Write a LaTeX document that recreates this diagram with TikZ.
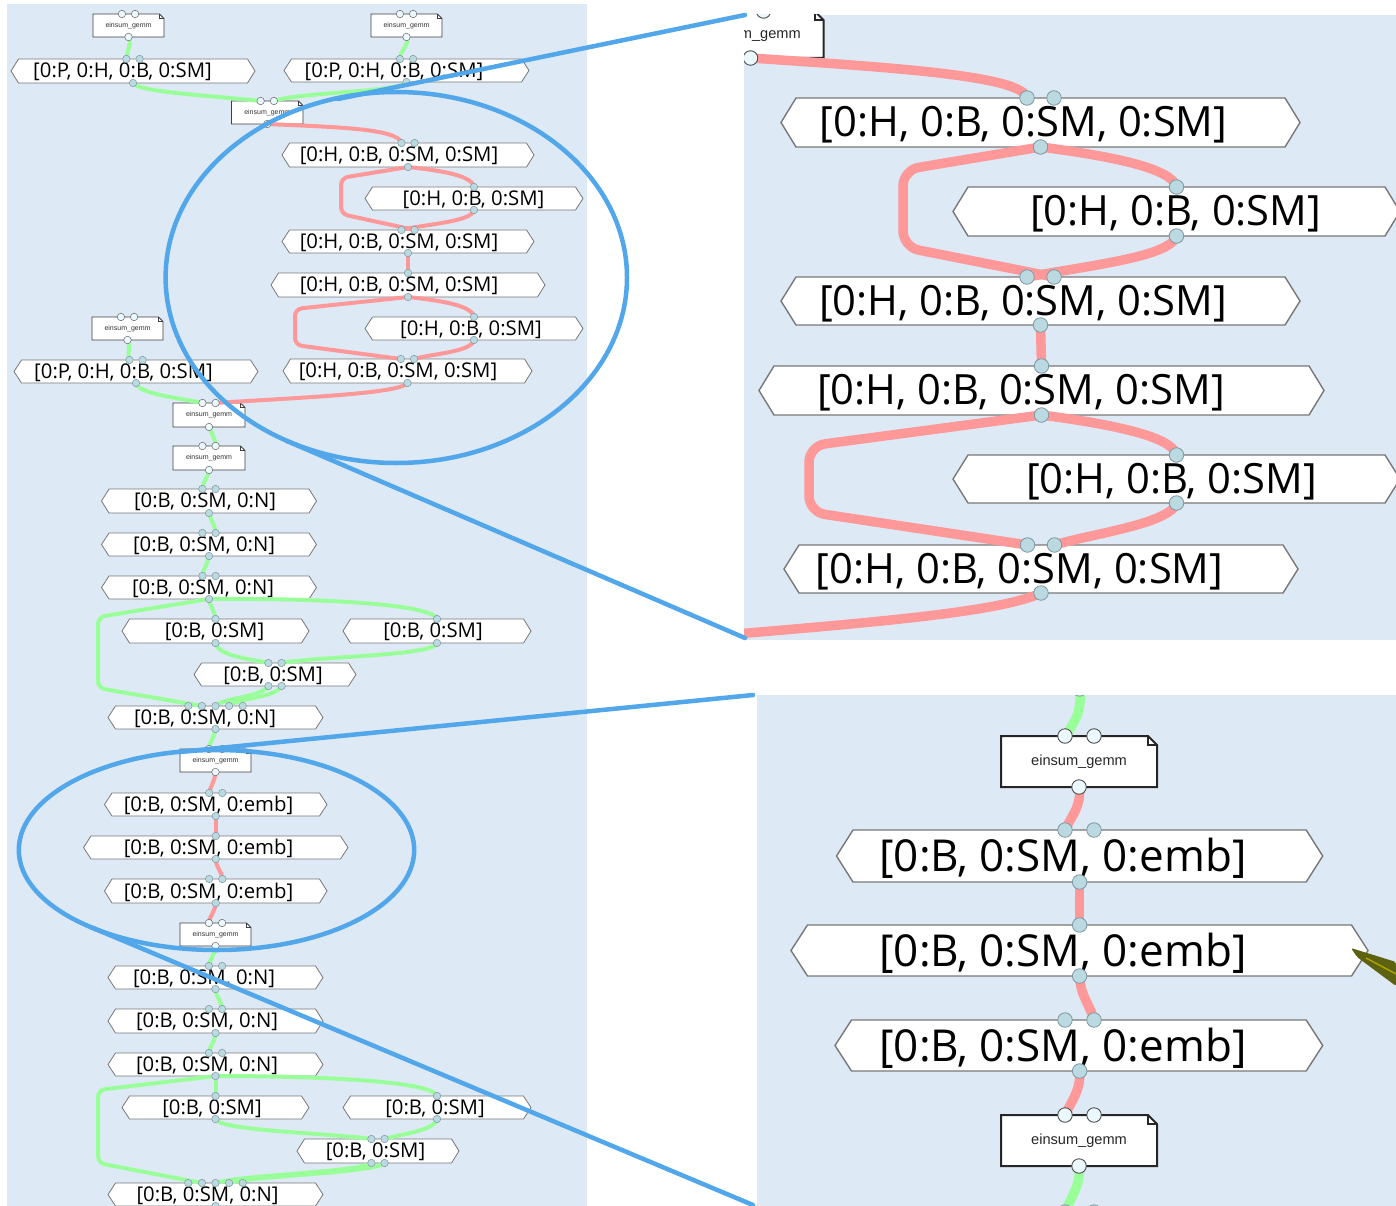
\documentclass[tikz,border=0pt]{standalone}
\usepackage{fontspec}
\setmainfont{Open Sans}
\newfontfamily\gemmfont{Liberation Sans}
\definecolor{panelbg}{RGB}{221,233,245}
\definecolor{edgered}{RGB}{255,153,153}
\definecolor{edgegreen}{RGB}{153,255,153}
\definecolor{zoomblue}{RGB}{82,166,234}
\definecolor{portfill}{RGB}{187,217,224}
\definecolor{portline}{RGB}{125,150,160}
\definecolor{hexline}{RGB}{120,120,120}
\definecolor{olivewedge}{RGB}{92,98,16}

\tikzset{
  panel/.style={fill=panelbg},
  hexs/.style={fill=white, draw=hexline, line width=0.8pt},
  hexl/.style={fill=white, draw=hexline, line width=1.4pt},
  boxs/.style={fill=white, draw=black!75, line width=0.8pt},
  boxl/.style={fill=white, draw=black!85, line width=2pt},
  lbls/.style={font=\fontsize{20.3}{24}\selectfont, inner sep=0pt},
  lblt/.style={font=\fontsize{41.7}{48}\selectfont, inner sep=0pt},
  lblb/.style={font=\fontsize{44}{50}\selectfont, inner sep=0pt},
  gems/.style={font=\gemmfont\fontsize{7}{8}\selectfont, inner sep=0pt, text=black!80},
  geml/.style={font=\gemmfont\fontsize{14.6}{17}\selectfont, inner sep=0pt, text=black!85},
  ps/.style={circle, fill=portfill, draw=portline, line width=0.5pt, minimum size=7.5pt, inner sep=0pt},
  pws/.style={circle, fill=white!92!cyan, draw=black!60, line width=0.5pt, minimum size=7.5pt, inner sep=0pt},
  pl/.style={circle, fill=portfill, draw=portline, line width=0.8pt, minimum size=14.5pt, inner sep=0pt},
  pwl/.style={circle, fill=white!92!cyan, draw=black!70, line width=0.9pt, minimum size=14.5pt, inner sep=0pt},
  gs/.style={draw=edgegreen, line width=4pt},
  rs/.style={draw=edgered, line width=4pt},
  gl/.style={draw=edgegreen, line width=9.5pt},
  rl/.style={draw=edgered, line width=9.5pt},
  loops/.style={rounded corners=7pt},
  loopl/.style={rounded corners=16pt},
  callout/.style={draw=zoomblue, line width=4.5pt, line cap=round},
}

% hexagonal tensor box: style, x1, x2, ytop, ybottom, tip
\newcommand\hexpath[6]{%
  \path[#1] (#2,{(#4+#5)/2}) -- ({#2+#6},#4) -- ({#3-#6},#4) -- (#3,{(#4+#5)/2})
    -- ({#3-#6},#5) -- ({#2+#6},#5) -- cycle;}
% operator box with folded corner: style, x1, x2, ytop, ybottom, fold
\newcommand\gemmbox[6]{%
  \path[#1] (#2,#4) -- ({#3-#6},#4) -- (#3,{#4+#6}) -- (#3,#5) -- (#2,#5) -- cycle;
  \path[#1, fill=none] ({#3-#6},#4) -- ({#3-#6},{#4+#6}) -- (#3,{#4+#6});}
% port marker on a named coordinate
\newcommand\pdot[2]{\node[#1] (#2-o) at (#2) {};}

\begin{document}
\begin{tikzpicture}[x=1pt, y=-1pt]
\useasboundingbox (0,0) rectangle (1396,1206);
\fill[white] (0,0) rectangle (1396,1206);

% ---------------- overview panel ----------------
\fill[panel] (7,4) rectangle (587,1206);

\hexpath{hexs}{11}{255}{59}{83}{7.5}     \node[lbls] (l1) at (122.5,72) {[0:P, 0:H, 0:B, 0:SM]};
\hexpath{hexs}{284}{529}{59}{82}{7.5}    \node[lbls] (l2) at (394,71.5) {[0:P, 0:H, 0:B, 0:SM]};
\hexpath{hexs}{282}{534}{143}{167}{7.5}  \node[lbls] (h1) at (399,156) {[0:H, 0:B, 0:SM, 0:SM]};
\hexpath{hexs}{365}{583}{187}{210}{7.5}  \node[lbls] (h2) at (473.5,199.5) {[0:H, 0:B, 0:SM]};
\hexpath{hexs}{282}{534}{230}{253}{7.5}  \node[lbls] (h3) at (399,242.5) {[0:H, 0:B, 0:SM, 0:SM]};
\hexpath{hexs}{271}{545}{273}{297}{7.5}  \node[lbls] (h4) at (399,286) {[0:H, 0:B, 0:SM, 0:SM]};
\hexpath{hexs}{365}{583}{317}{340}{7.5}  \node[lbls] (h5) at (471,329.5) {[0:H, 0:B, 0:SM]};
\hexpath{hexs}{283}{532}{359}{383}{7.5}  \node[lbls] (h6) at (398,372) {[0:H, 0:B, 0:SM, 0:SM]};
\hexpath{hexs}{14}{258}{360}{383}{7.5}   \node[lbls] (l3) at (123.5,372.5) {[0:P, 0:H, 0:B, 0:SM]};
\hexpath{hexs}{101.5}{316.5}{489}{513}{7.5} \node[lbls] (n1) at (205,502) {[0:B, 0:SM, 0:N]};
\hexpath{hexs}{101.5}{316.5}{533}{556}{7.5} \node[lbls] (n2) at (204,545.5) {[0:B, 0:SM, 0:N]};
\hexpath{hexs}{101.5}{316.5}{576}{599}{7.5} \node[lbls] (n3) at (203,588.5) {[0:B, 0:SM, 0:N]};
\hexpath{hexs}{122}{309}{619}{643}{7.5}  \node[lbls] (s1) at (214.5,632) {[0:B, 0:SM]};
\hexpath{hexs}{343}{531}{619}{643}{7.5}  \node[lbls] (s2) at (433,632) {[0:B, 0:SM]};
\hexpath{hexs}{194}{356}{663}{686}{7.5}  \node[lbls] (s3) at (273,675.5) {[0:B, 0:SM]};
\hexpath{hexs}{108}{323}{706}{729}{7.5}  \node[lbls] (n4) at (205,718.5) {[0:B, 0:SM, 0:N]};
\hexpath{hexs}{104.5}{327}{793}{816}{7.5} \node[lbls] (e1) at (208.5,805.5) {[0:B, 0:SM, 0:emb]};
\hexpath{hexs}{83.5}{348}{836}{859}{7.5} \node[lbls] (e2) at (208.5,848.5) {[0:B, 0:SM, 0:emb]};
\hexpath{hexs}{104.5}{327}{879}{903}{7.5} \node[lbls] (e3) at (208.5,892) {[0:B, 0:SM, 0:emb]};
\hexpath{hexs}{108}{323}{966}{989}{7.5}  \node[lbls] (n5) at (204,978.5) {[0:B, 0:SM, 0:N]};
\hexpath{hexs}{108}{323}{1009}{1033}{7.5} \node[lbls] (n6) at (207,1022) {[0:B, 0:SM, 0:N]};
\hexpath{hexs}{108}{323}{1053}{1076}{7.5} \node[lbls] (n7) at (207,1065.5) {[0:B, 0:SM, 0:N]};
\hexpath{hexs}{122}{309}{1096}{1119}{7.5} \node[lbls] (s4) at (212,1108.5) {[0:B, 0:SM]};
\hexpath{hexs}{343}{531}{1096}{1119}{7.5} \node[lbls] (s5) at (435,1108.5) {[0:B, 0:SM]};
\hexpath{hexs}{297}{459}{1139}{1163}{7.5} \node[lbls] (s6) at (375.5,1152) {[0:B, 0:SM]};
\hexpath{hexs}{108}{323}{1183}{1206}{7.5} \node[lbls] (n8) at (207.5,1195.5) {[0:B, 0:SM, 0:N]};

\gemmbox{boxs}{93}{164}{14}{37}{4.5}     \node[gems] (ga) at (128.5,25.5) {einsum\_gemm};
\gemmbox{boxs}{371}{442}{14}{37}{4.5}    \node[gems] (gb) at (406.5,25.5) {einsum\_gemm};
\gemmbox{boxs}{231.5}{303}{101}{124}{4.5} \node[gems] (gc) at (267.25,112.5) {einsum\_gemm};
\gemmbox{boxs}{92}{163}{317}{340}{4.5}   \node[gems] (gd) at (127.5,328.5) {einsum\_gemm};
\gemmbox{boxs}{173}{245}{403}{427}{4.5}  \node[gems] (ge) at (209,415) {einsum\_gemm};
\gemmbox{boxs}{173}{245}{446}{470}{4.5}  \node[gems] (gf) at (209,458) {einsum\_gemm};
\gemmbox{boxs}{180}{251}{749}{772}{4.5}  \node[gems] (gg) at (215.5,760.5) {einsum\_gemm};
\gemmbox{boxs}{180}{251}{923}{946}{4.5}  \node[gems] (gh) at (215.5,934.5) {einsum\_gemm};

% ports of the operator boxes
\coordinate (at1) at (121.9,14);  \coordinate (at2) at (135.1,14);  \coordinate (ab) at (128.5,37);
\coordinate (bt1) at (399.9,14);  \coordinate (bt2) at (413.1,14);  \coordinate (bb) at (406.5,37);
\coordinate (ct1) at (260.6,101); \coordinate (ct2) at (273.9,101); \coordinate (cb) at (267.25,124);
\coordinate (dt1) at (120.9,317); \coordinate (dt2) at (134.1,317); \coordinate (db) at (127.5,340);
\coordinate (et1) at (202.4,403); \coordinate (et2) at (215.6,403); \coordinate (eb) at (209,427);
\coordinate (ft1) at (202.4,446); \coordinate (ft2) at (215.6,446); \coordinate (fb) at (209,470);
\coordinate (gt1) at (208.9,749); \coordinate (gt2) at (222.1,749); \coordinate (gb) at (215.5,772);
\coordinate (ht1) at (208.9,923); \coordinate (ht2) at (222.1,923); \coordinate (hb) at (215.5,946);
% ports of the tensors
\coordinate (l1t1) at (126.4,59); \coordinate (l1t2) at (139.6,59); \coordinate (l1b) at (133,83);
\coordinate (l2t1) at (399.9,59); \coordinate (l2t2) at (413.1,59); \coordinate (l2b) at (406.5,82);
\coordinate (h1t1) at (401.4,143); \coordinate (h1t2) at (414.6,143); \coordinate (h1b) at (408,167);
\coordinate (h2t) at (474,187);   \coordinate (h2b) at (474,210);
\coordinate (h3t1) at (401.4,230); \coordinate (h3t2) at (414.6,230); \coordinate (h3b) at (408,253);
\coordinate (h4t) at (408,273);   \coordinate (h4b) at (408,297);
\coordinate (h5t) at (474,317);   \coordinate (h5b) at (474,340);
\coordinate (h6t1) at (400.9,359); \coordinate (h6t2) at (414.1,359); \coordinate (h6b) at (407.5,383);
\coordinate (l3t1) at (129.4,360); \coordinate (l3t2) at (142.6,360); \coordinate (l3b) at (136,383);
\coordinate (n1t1) at (202.4,489); \coordinate (n1t2) at (215.6,489); \coordinate (n1b) at (209,513);
\coordinate (n2t1) at (202.4,533); \coordinate (n2t2) at (215.6,533); \coordinate (n2b) at (209,556);
\coordinate (n3t1) at (202.4,576); \coordinate (n3t2) at (215.6,576); \coordinate (n3b) at (209,599);
\coordinate (s1t) at (215.5,619); \coordinate (s1b) at (215.5,643);
\coordinate (s2t) at (437,619);   \coordinate (s2b) at (437,643);
\coordinate (s3t1) at (268.4,663); \coordinate (s3t2) at (281.6,663);
\coordinate (s3b1) at (268.4,686); \coordinate (s3b2) at (281.6,686);
\coordinate (n4t1) at (188.3,706); \coordinate (n4t2) at (201.9,706); \coordinate (n4t3) at (215.5,706);
\coordinate (n4t4) at (229.1,706); \coordinate (n4t5) at (242.7,706); \coordinate (n4b) at (215.5,729);
\coordinate (e1t1) at (209.15,793); \coordinate (e1t2) at (222.35,793); \coordinate (e1b) at (215.75,816);
\coordinate (e2t) at (215.75,836); \coordinate (e2b) at (215.75,859);
\coordinate (e3t1) at (209.15,879); \coordinate (e3t2) at (222.35,879); \coordinate (e3b) at (215.75,903);
\coordinate (n5t1) at (208.9,966); \coordinate (n5t2) at (222.1,966); \coordinate (n5b) at (215.5,989);
\coordinate (n6t1) at (208.9,1009); \coordinate (n6t2) at (222.1,1009); \coordinate (n6b) at (215.5,1033);
\coordinate (n7t1) at (208.9,1053); \coordinate (n7t2) at (222.1,1053); \coordinate (n7b) at (215.5,1076);
\coordinate (s4t) at (215.5,1096); \coordinate (s4b) at (215.5,1119);
\coordinate (s5t) at (437,1096);  \coordinate (s5b) at (437,1119);
\coordinate (s6t1) at (371.4,1139); \coordinate (s6t2) at (384.6,1139);
\coordinate (s6b1) at (371.4,1163); \coordinate (s6b2) at (384.6,1163);
\coordinate (n8t1) at (188.3,1183); \coordinate (n8t2) at (201.9,1183); \coordinate (n8t3) at (215.5,1183);
\coordinate (n8t4) at (229.1,1183); \coordinate (n8t5) at (242.7,1183); \coordinate (n8b) at (215.5,1206);

% data flow, overview
\draw[gs] (ab) .. controls (132,45) and (127,50) .. (l1t1);
\draw[gs] (bb) .. controls (410,45) and (400,50) .. (l2t1);
\draw[gs] (l1b) .. controls (137,92) and (215,96) .. (ct1);
\draw[gs] (l2b) .. controls (402,92) and (300,92) .. (ct2);
\draw[rs] (cb) .. controls (330,127) and (398,128) .. (h1t1);
\draw[rs] (h1b) .. controls (445,171) and (472,176) .. (h2t);
\draw[rs, loops] (h1b) -- (341,178) -- (341,214) -- (h3t2);
\draw[rs] (h2b) .. controls (472,222) and (425,224) .. (h3t1);
\draw[rs] (h3b) -- (h4t);
\draw[rs] (h4b) .. controls (445,301) and (472,306) .. (h5t);
\draw[rs, loops] (h4b) -- (295,309) -- (295,345) -- (h6t1);
\draw[rs] (h5b) .. controls (472,352) and (430,354) .. (h6t2);
\draw[rs] (h6b) .. controls (400,394) and (290,398) .. (et2);
\draw[gs] (db) .. controls (131,348) and (127,352) .. (l3t1);
\draw[gs] (l3b) .. controls (138,394) and (180,398) .. (et1);
\draw[gs] (eb) .. controls (212,434) and (215,438) .. (ft2);
\draw[gs] (fb) .. controls (208,478) and (203,480) .. (n1t1);
\draw[gs] (n1b) .. controls (211,521) and (215,525) .. (n2t2);
\draw[gs] (n2b) .. controls (208,564) and (203,568) .. (n3t1);
\draw[gs] (n3b) .. controls (210,607) and (215,611) .. (s1t);
\draw[gs] (n3b) .. controls (320,598) and (432,604) .. (s2t);
\draw[gs, loops] (n3b) -- (98,617) -- (98,688) -- (n4t2);
\draw[gs] (s1b) .. controls (218,656) and (250,659) .. (s3t1);
\draw[gs] (s2b) .. controls (434,656) and (320,656) .. (s3t2);
\draw[gs] (s3b1) .. controls (262,697) and (222,698) .. (n4t3);
\draw[gs] (s3b2) .. controls (276,698) and (236,698) .. (n4t4);
\draw[gs] (n4b) .. controls (214,738) and (210,741) .. (gt1);
\draw[rs] (gb) .. controls (215,781) and (211,785) .. (e1t1);
\draw[rs] (e1b) -- (e2t);
\draw[rs] (e2b) .. controls (216,868) and (222,871) .. (e3t2);
\draw[rs] (e3b) .. controls (215,912) and (210,915) .. (ht1);
\draw[gs] (hb) .. controls (215,955) and (210,958) .. (n5t1);
\draw[gs] (n5b) .. controls (216,998) and (222,1001) .. (n6t2);
\draw[gs] (n6b) .. controls (215,1042) and (210,1045) .. (n7t1);
\draw[gs] (n7b) -- (s4t);
\draw[gs] (n7b) .. controls (320,1076) and (432,1081) .. (s5t);
\draw[gs, loops] (n7b) -- (98,1090) -- (98,1163) -- (n8t2);
\draw[gs] (s4b) .. controls (220,1131) and (330,1133) .. (s6t1);
\draw[gs] (s5b) .. controls (434,1131) and (400,1134) .. (s6t2);
\draw[gs] (s6b1) .. controls (360,1172) and (240,1175) .. (n8t3);
\draw[gs] (s6b2) .. controls (375,1173) and (250,1176) .. (n8t4);

\foreach \p in {at1,at2,ab,bt1,bt2,bb,ct1,ct2,cb,dt1,dt2,db,et1,et2,eb,ft1,ft2,fb,gt1,gt2,gb,ht1,ht2,hb}
  {\pdot{pws}{\p}}
\foreach \p in {l1t1,l1t2,l1b,l2t1,l2t2,l2b,h1t1,h1t2,h1b,h2t,h2b,h3t1,h3t2,h3b,h4t,h4b,h5t,h5b,
  h6t1,h6t2,h6b,l3t1,l3t2,l3b,n1t1,n1t2,n1b,n2t1,n2t2,n2b,n3t1,n3t2,n3b,s1t,s1b,s2t,s2b,
  s3t1,s3t2,s3b1,s3b2,n4t1,n4t2,n4t3,n4t4,n4t5,n4b,e1t1,e1t2,e1b,e2t,e2b,e3t1,e3t2,e3b,
  n5t1,n5t2,n5b,n6t1,n6t2,n6b,n7t1,n7t2,n7b,s4t,s4b,s5t,s5b,s6t1,s6t2,s6b1,s6b2,
  n8t1,n8t2,n8t3,n8t4,n8t5,n8b}
  {\pdot{ps}{\p}}

% ---------------- detail: attention block ----------------
\begin{scope}
\clip (744,15) rectangle (1396,640);
\fill[panel] (744,15) rectangle (1396,640);
\gemmbox{boxl}{677.5}{823.5}{11}{58}{9}
\node[geml, anchor=east] (gtop) at (801,35) {einsum\_gemm};
\hexpath{hexl}{781}{1300}{98}{147}{15}   \node[lblt] (rh1) at (1023.5,125) {[0:H, 0:B, 0:SM, 0:SM]};
\hexpath{hexl}{953}{1400}{187}{236}{15}  \node[lblt] (rh2) at (1175.7,214) {[0:H, 0:B, 0:SM]};
\hexpath{hexl}{781}{1300}{277}{325}{15}  \node[lblt] (rh3) at (1023,303.5) {[0:H, 0:B, 0:SM, 0:SM]};
\hexpath{hexl}{759}{1324}{366}{415}{15}  \node[lblt] (rh4) at (1021,393) {[0:H, 0:B, 0:SM, 0:SM]};
\hexpath{hexl}{953}{1400}{455}{503}{15}  \node[lblt] (rh5) at (1171.6,481.5) {[0:H, 0:B, 0:SM]};
\hexpath{hexl}{784}{1298}{545}{593}{15}  \node[lblt] (rh6) at (1019.5,571.5) {[0:H, 0:B, 0:SM, 0:SM]};
\coordinate (rb0t1) at (736.5,11); \coordinate (rb0t2) at (763.5,11); \coordinate (rb0b) at (750.5,58);
\coordinate (rh1t1) at (1027,98); \coordinate (rh1t2) at (1054,98); \coordinate (rh1b) at (1040.5,147);
\coordinate (rh2t) at (1176.5,187); \coordinate (rh2b) at (1176.5,236);
\coordinate (rh3t1) at (1027,277); \coordinate (rh3t2) at (1054,277); \coordinate (rh3b) at (1040.5,325);
\coordinate (rh4t) at (1041.5,366); \coordinate (rh4b) at (1041.5,415);
\coordinate (rh5t) at (1176.5,455); \coordinate (rh5b) at (1176.5,503);
\coordinate (rh6t1) at (1027.5,545); \coordinate (rh6t2) at (1054.5,545); \coordinate (rh6b) at (1041,593);
\coordinate (rexit) at (700,637);
\draw[rl] (rb0b) .. controls (900,68) and (1022,76) .. (rh1t1);
\draw[rl] (rh1b) .. controls (1110,156) and (1172,168) .. (rh2t);
\draw[rl, loopl] (rh1b) -- (903,170) -- (903,247) -- (rh3t2);
\draw[rl] (rh2b) .. controls (1170,256) and (1100,264) .. (rh3t1);
\draw[rl] (rh3b) -- (rh4t);
\draw[rl] (rh4b) .. controls (1110,424) and (1172,436) .. (rh5t);
\draw[rl, loopl] (rh4b) -- (809,446) -- (809,512) -- (rh6t1);
\draw[rl] (rh5b) .. controls (1170,524) and (1090,534) .. (rh6t2);
\draw[rl] (rh6b) .. controls (1000,612) and (880,622) .. (rexit);
\foreach \p in {rb0t1,rb0t2,rb0b} {\pdot{pwl}{\p}}
\foreach \p in {rh1t1,rh1t2,rh1b,rh2t,rh2b,rh3t1,rh3t2,rh3b,rh4t,rh4b,rh5t,rh5b,rh6t1,rh6t2,rh6b}
  {\pdot{pl}{\p}}
\end{scope}

% ---------------- detail: embedding block ----------------
\begin{scope}
\clip (757,695) rectangle (1396,1206);
\fill[panel] (757,695) rectangle (1396,1206);
\gemmbox{boxl}{1001}{1157}{736}{787}{9}   \node[geml] (gm1) at (1079,762) {einsum\_gemm};
\hexpath{hexl}{836.5}{1322.7}{830}{882}{16.5} \node[lblb] (re1) at (1063,858.5) {[0:B, 0:SM, 0:emb]};
\hexpath{hexl}{791}{1368}{925}{976}{16.5}    \node[lblb] (re2) at (1063,953) {[0:B, 0:SM, 0:emb]};
\hexpath{hexl}{835}{1322.7}{1020}{1071}{16.5} \node[lblb] (re3) at (1063,1048) {[0:B, 0:SM, 0:emb]};
\gemmbox{boxl}{1001}{1157}{1115}{1166}{9} \node[geml] (gm2) at (1079,1141) {einsum\_gemm};
\coordinate (rin) at (1079.6,689);
\coordinate (rb1t1) at (1065,736); \coordinate (rb1t2) at (1094,736); \coordinate (rb1b) at (1079,787);
\coordinate (re1t1) at (1065,830); \coordinate (re1t2) at (1094,830); \coordinate (re1b) at (1079.6,882);
\coordinate (re2t) at (1079.6,925); \coordinate (re2b) at (1079.6,976);
\coordinate (re3t1) at (1065,1020); \coordinate (re3t2) at (1094,1020); \coordinate (re3b) at (1079.6,1071);
\coordinate (rb2t1) at (1065,1115); \coordinate (rb2t2) at (1094,1115); \coordinate (rb2b) at (1079,1166);
\coordinate (rnx1) at (1065,1212); \coordinate (rnx2) at (1094,1212);
\draw[gl] (rin) .. controls (1082,712) and (1075,722) .. (rb1t1);
\draw[rl] (rb1b) .. controls (1082,805) and (1072,815) .. (re1t1);
\draw[rl] (re1b) -- (re2t);
\draw[rl] (re2b) .. controls (1080,995) and (1090,1005) .. (re3t2);
\draw[rl] (re3b) .. controls (1081,1090) and (1072,1100) .. (rb2t1);
\draw[gl] (rb2b) .. controls (1081,1185) and (1072,1195) .. (rnx1);
\foreach \p in {rb1t1,rb1t2,rb1b,rb2t1,rb2t2,rb2b} {\pdot{pwl}{\p}}
\foreach \p in {rin,re1t1,re1t2,re1b,re2t,re2b,re3t1,re3t2,re3b,rnx1,rnx2} {\pdot{pl}{\p}}
\fill[olivewedge, rounded corners=2pt] (1351,948) -- (1396,962) -- (1396,986) -- (1357,957) -- cycle;
\draw[olive!75!yellow, line width=1.5pt] (1366,958) -- (1396,974);
\end{scope}

% ---------------- zoom callouts ----------------
\coordinate (zc1) at (396.3,277.5);
\coordinate (zc1a) at (745,15);  \coordinate (zc1at) at (338,99);
\coordinate (zc1b) at (745,638); \coordinate (zc1bt) at (287,441);
\draw[callout] (zc1) ellipse [x radius=230.7pt, y radius=185.5pt];
\draw[callout] (zc1a) -- (zc1at);
\draw[callout] (zc1b) -- (zc1bt);
\coordinate (zc2) at (216.5,850);
\coordinate (zc2a) at (753,695);  \coordinate (zc2at) at (179,752);
\coordinate (zc2b) at (753,1205); \coordinate (zc2bt) at (90.6,927);
\draw[callout] (zc2) ellipse [x radius=197.7pt, y radius=100pt];
\draw[callout] (zc2a) -- (zc2at);
\draw[callout] (zc2b) -- (zc2bt);
\end{tikzpicture}
\end{document}
